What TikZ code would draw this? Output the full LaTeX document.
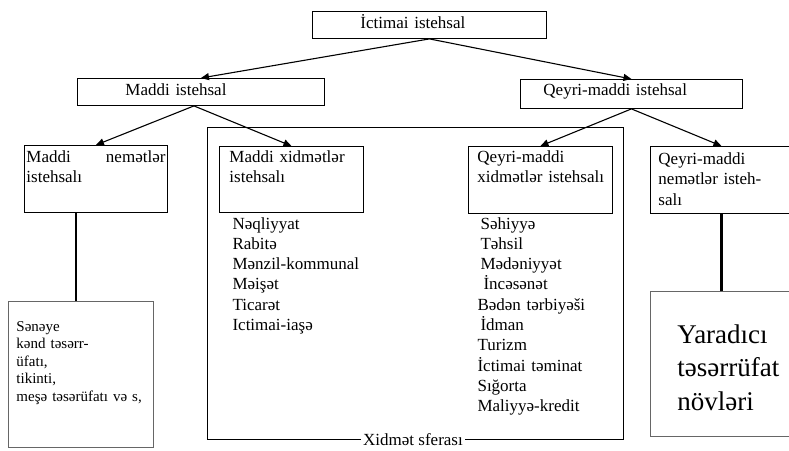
\documentclass[tikz,border=0pt]{standalone}
\usepackage{fontspec}
\setmainfont{Liberation Serif}
\usetikzlibrary{arrows.meta}

\begin{document}
\begin{tikzpicture}[x=1pt, y=-1pt, >={Triangle[length=8pt,width=7pt]}, line width=1.1pt,
    blok/.style={draw, anchor=north west, inner ysep=0pt, align=left, line width=0.9pt,
      font=\fontsize{17}{20.3}\selectfont},
    siyahi/.style={anchor=base west, inner sep=0pt, align=left, text width=170pt,
      font=\fontsize{17}{20.3}\selectfont}]
        % kənarlar
        \useasboundingbox (0,0) rectangle (789,450);

        % Xidmət sferası çərçivəsi
        \node[draw, anchor=north west, inner sep=0pt, minimum width=416pt, minimum height=312pt] (sfera) at (207,127) {};
        \node[fill=white, inner xsep=2pt, inner ysep=0pt, font=\fontsize{17}{20}\selectfont] (sferaad) at (413,440) {Xidmət sferası};

        % yuxarı səviyyə
        \node[blok, inner xsep=48pt, text width=138pt, text height=17pt, text depth=10pt] (ictimai) at (312,11) {İctimai istehsal};
        \node[blok, inner xsep=48pt, text width=151pt, text height=17pt, text depth=10pt] (maddi) at (77,78) {Maddi istehsal};
        \node[blok, inner xsep=23pt, text width=176pt, text height=16pt, text depth=13pt] (qeyri) at (520,79) {Qeyri-maddi istehsal};

        % orta səviyyə
        \node[blok, inner xsep=2pt, text width=139pt, text height=17pt, text depth=50pt] (nematler) at (24,145) {Maddi\hfill nemətlər\\istehsalı};
        \node[blok, inner xsep=10pt, text width=124pt, text height=16pt, text depth=50pt] (xidmetler) at (219,146) {Maddi xidmətlər\\istehsalı};
        \node[blok, inner xsep=9pt, text width=126pt, text height=16pt, text depth=51pt] (qxidmet) at (468,146) {Qeyri-maddi\\\mbox{xidmətlər istehsalı}};
        \node[blok, inner xsep=8pt, text width=126pt, text height=18pt, text depth=49pt] (qnemet) at (650,146) {Qeyri-maddi\\nemətlər isteh-\\salı};

        % siyahılar
        \node[siyahi] (msiyahi) at (232,229) {Nəqliyyat\\Rabitə\\Mənzil-kommunal\\Məişət\\Ticarət\\Ictimai-iaşə};
        \node[siyahi] (qsiyahi) at (477,229) {\hspace*{3pt}Səhiyyə\\\hspace*{3pt}Təhsil\\\hspace*{3pt}Mədəniyyət\\\hspace*{6pt}İncəsənət\\Bədən tərbiyəši\\\hspace*{3pt}İdman\\Turizm\\İctimai təminat\\Sığorta\\Maliyyə-kredit};

        % aşağı qutular
        \node[blok, draw=black!60, inner xsep=8pt, text width=129pt, text height=30pt, text depth=116pt,
          font=\fontsize{15}{17.5}\selectfont] (sanaye) at (8,301) {Sənəye\\kənd təsərr-\\üfatı,\\tikinti,\\meşə təsərüfatı və s,};
        \node[blok, draw=black!60, inner xsep=27pt, text width=120pt, text height=52pt, text depth=93pt,
          font=\fontsize{27}{33.5}\selectfont] (yaradici) at (650,291) {Yaradıcı\\təsərrüfat\\növləri};

        % oxlar
        \draw[->] (ictimai.south) -- (maddi.north);
        \draw[->] (ictimai.south) -- (qeyri.north);
        \draw[->] ([xshift=-7pt]maddi.south) -- (nematler.north);
        \draw[->] ([xshift=-7pt]maddi.south) -- (xidmetler.north);
        \draw[->] (qeyri.south) -- (qxidmet.north);
        \draw[->] (qeyri.south) -- (qnemet.north);

        % şaquli xətlər
        \draw[line width=2.5pt] ([xshift=-20pt]nematler.south) -- ([xshift=-20pt]nematler.south |- sanaye.north);
        \draw[line width=2.5pt] (qnemet.south) -- (qnemet.south |- yaradici.north);
    \end{tikzpicture}
\end{document}
